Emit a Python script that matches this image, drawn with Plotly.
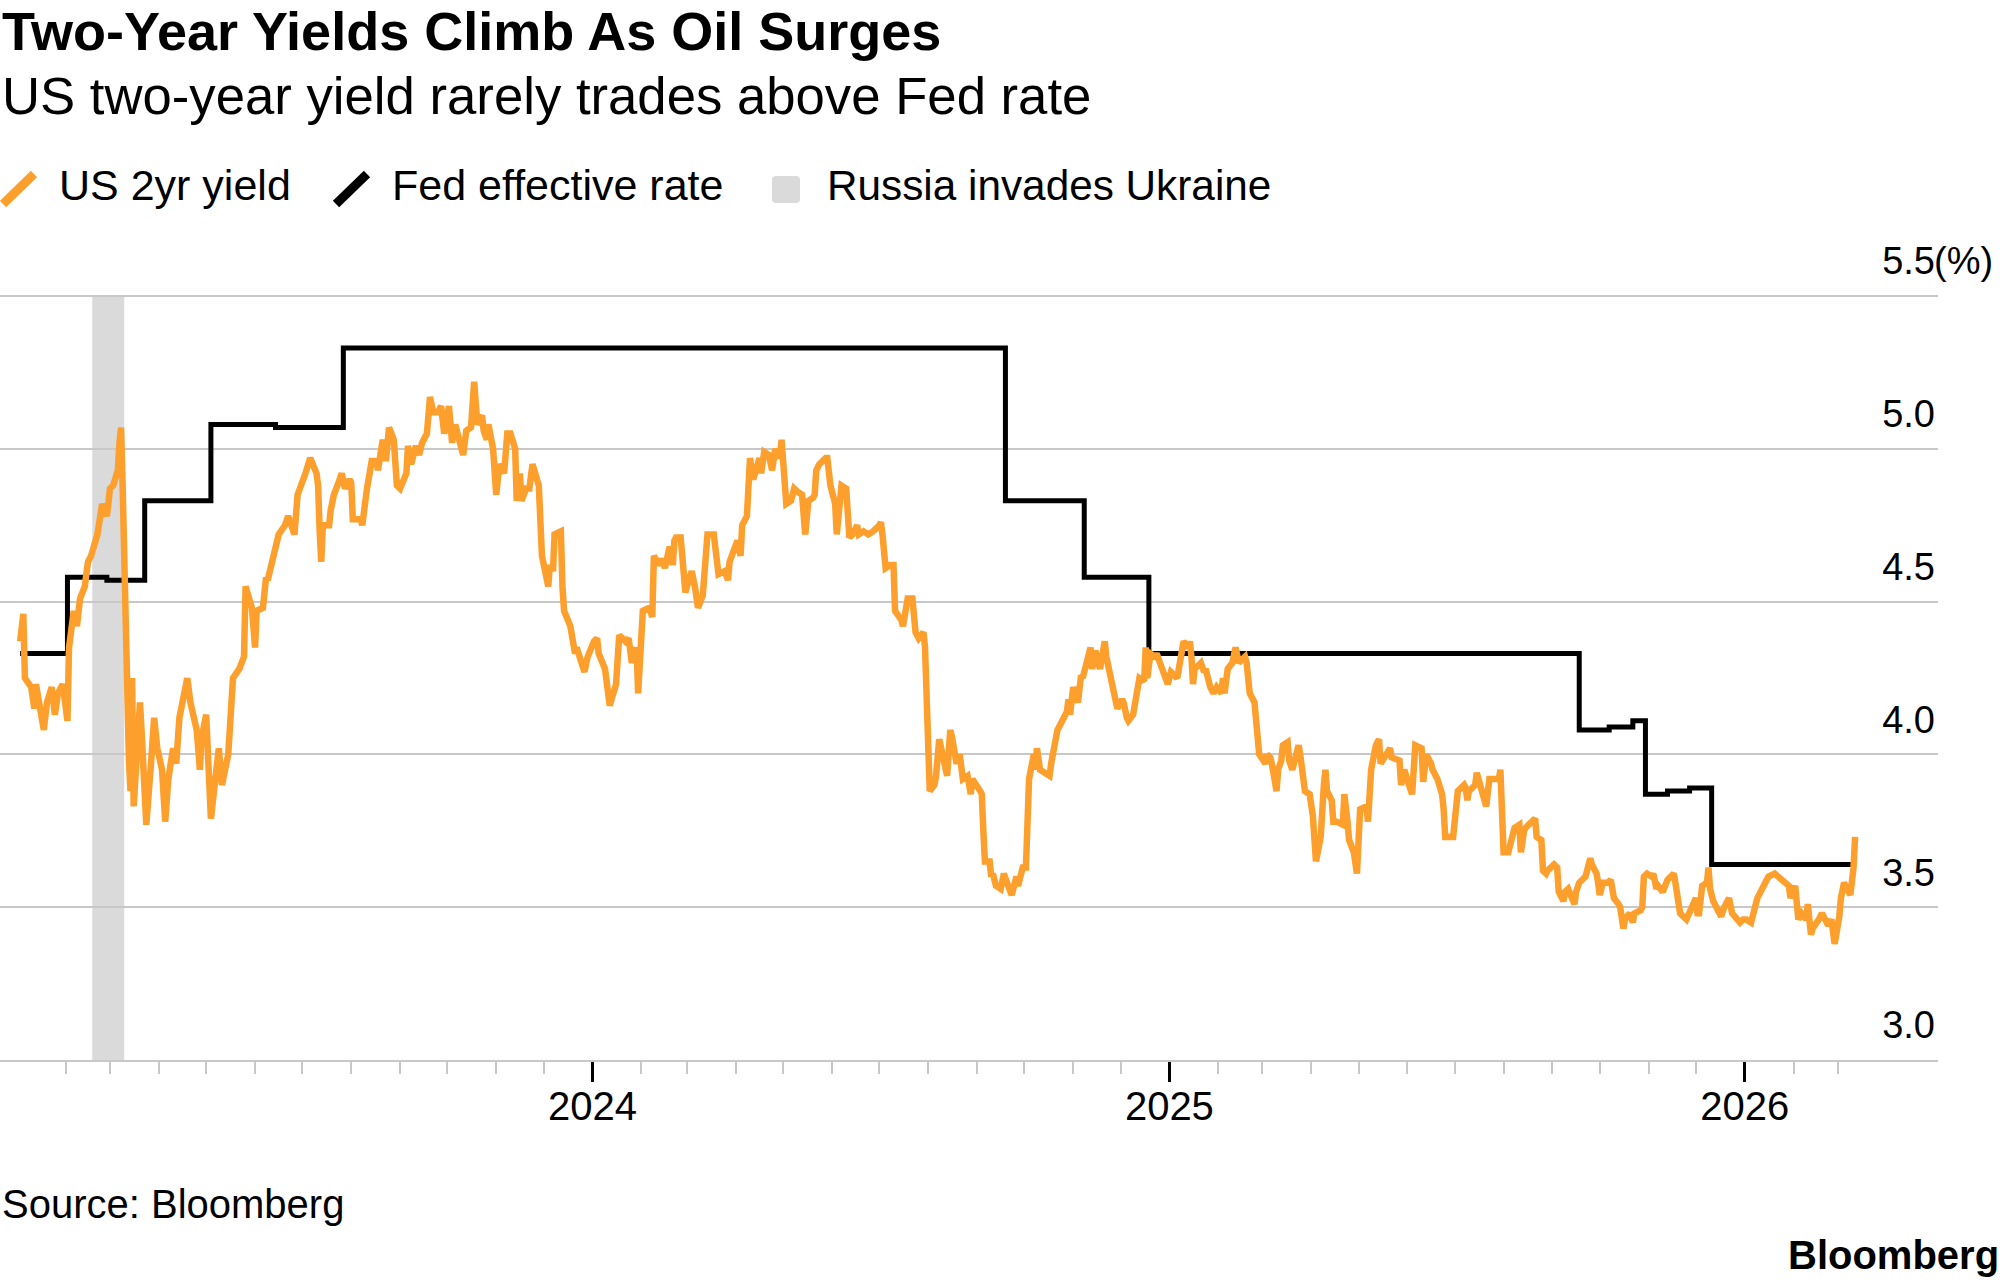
import plotly.graph_objects as go

# ---------------- data ----------------
yield_dates = [
    "2023-01-03","2023-01-05","2023-01-06","2023-01-09","2023-01-10","2023-01-12","2023-01-13","2023-01-18",
    "2023-01-20","2023-01-23","2023-01-25","2023-01-27","2023-01-30","2023-02-02","2023-02-03","2023-02-06",
    "2023-02-08","2023-02-10","2023-02-13","2023-02-15","2023-02-17","2023-02-21","2023-02-23","2023-02-24",
    "2023-02-27","2023-03-01","2023-03-03","2023-03-06","2023-03-07","2023-03-08","2023-03-09","2023-03-10",
    "2023-03-13","2023-03-14","2023-03-15","2023-03-16","2023-03-20","2023-03-21","2023-03-24","2023-03-27",
    "2023-03-29","2023-03-31","2023-04-03","2023-04-05","2023-04-07","2023-04-10","2023-04-12","2023-04-14",
    "2023-04-19","2023-04-21","2023-04-25","2023-04-27","2023-04-28","2023-05-01","2023-05-04","2023-05-09",
    "2023-05-11","2023-05-15","2023-05-18","2023-05-22","2023-05-25","2023-05-26","2023-05-30","2023-06-01",
    "2023-06-02","2023-06-06","2023-06-08","2023-06-09","2023-06-13","2023-06-16","2023-06-20","2023-06-22",
    "2023-06-26","2023-06-28","2023-07-03","2023-07-06","2023-07-10","2023-07-11","2023-07-12","2023-07-13",
    "2023-07-14","2023-07-18","2023-07-19","2023-07-21","2023-07-24","2023-07-26","2023-07-28","2023-07-31",
    "2023-08-01","2023-08-02","2023-08-07","2023-08-08","2023-08-11","2023-08-14","2023-08-17","2023-08-18",
    "2023-08-21","2023-08-23","2023-08-25","2023-08-28","2023-08-30","2023-09-01","2023-09-05","2023-09-06",
    "2023-09-08","2023-09-11","2023-09-13","2023-09-15","2023-09-18","2023-09-20","2023-09-22","2023-09-25",
    "2023-09-27","2023-09-29","2023-10-02","2023-10-04","2023-10-06","2023-10-09","2023-10-11","2023-10-13",
    "2023-10-16","2023-10-18","2023-10-20","2023-10-23","2023-10-24","2023-10-26","2023-10-27","2023-10-30",
    "2023-11-01","2023-11-03","2023-11-06","2023-11-08","2023-11-10","2023-11-13","2023-11-14","2023-11-16",
    "2023-11-17","2023-11-20","2023-11-22","2023-11-24","2023-11-28","2023-11-30","2023-12-01","2023-12-04",
    "2023-12-05","2023-12-07","2023-12-08","2023-12-12","2023-12-13","2023-12-14","2023-12-18","2023-12-19",
    "2023-12-21","2023-12-22","2023-12-26","2023-12-27","2023-12-29",
    "2024-01-02","2024-01-04","2024-01-05","2024-01-09","2024-01-12","2024-01-16","2024-01-17","2024-01-18",
    "2024-01-22","2024-01-24","2024-01-26","2024-01-29","2024-01-30","2024-02-01","2024-02-02","2024-02-06",
    "2024-02-08","2024-02-09","2024-02-12","2024-02-14","2024-02-16","2024-02-19","2024-02-20","2024-02-21",
    "2024-02-22","2024-02-23","2024-02-26","2024-02-29","2024-03-01","2024-03-04","2024-03-06","2024-03-08",
    "2024-03-11","2024-03-12","2024-03-14","2024-03-18","2024-03-20","2024-03-21","2024-03-25","2024-03-26",
    "2024-03-27","2024-03-28","2024-04-01","2024-04-02","2024-04-04","2024-04-05","2024-04-08","2024-04-10",
    "2024-04-12","2024-04-15","2024-04-16","2024-04-17","2024-04-19","2024-04-22","2024-04-24","2024-04-26",
    "2024-04-29","2024-04-30","2024-05-02","2024-05-03","2024-05-06","2024-05-08","2024-05-10","2024-05-13",
    "2024-05-15","2024-05-17","2024-05-20","2024-05-21","2024-05-22","2024-05-24","2024-05-28","2024-05-29",
    "2024-05-31","2024-06-03","2024-06-04","2024-06-07","2024-06-10","2024-06-12","2024-06-14","2024-06-17",
    "2024-06-18","2024-06-21","2024-06-24","2024-06-27","2024-07-01","2024-07-02","2024-07-03","2024-07-05",
    "2024-07-08","2024-07-10","2024-07-11","2024-07-15","2024-07-16","2024-07-19","2024-07-22","2024-07-24",
    "2024-07-26","2024-07-29","2024-07-30","2024-08-01","2024-08-02","2024-08-05","2024-08-06","2024-08-08",
    "2024-08-12","2024-08-13","2024-08-15","2024-08-16","2024-08-19","2024-08-21","2024-08-23","2024-08-26",
    "2024-08-28","2024-08-29","2024-09-03","2024-09-04","2024-09-05","2024-09-06","2024-09-09","2024-09-10",
    "2024-09-11","2024-09-13","2024-09-16","2024-09-18","2024-09-20","2024-09-23","2024-09-26","2024-09-27",
    "2024-09-30","2024-10-02","2024-10-04","2024-10-07","2024-10-08","2024-10-09","2024-10-11","2024-10-15",
    "2024-10-17","2024-10-18","2024-10-21","2024-10-22","2024-10-24","2024-10-28","2024-10-29","2024-10-30",
    "2024-11-01","2024-11-04","2024-11-06","2024-11-07","2024-11-11","2024-11-12","2024-11-13","2024-11-15",
    "2024-11-18","2024-11-21","2024-11-22","2024-11-26","2024-11-29","2024-12-02","2024-12-03","2024-12-05",
    "2024-12-06","2024-12-09","2024-12-11","2024-12-13","2024-12-16","2024-12-17","2024-12-18","2024-12-20",
    "2024-12-23","2024-12-24","2024-12-26","2024-12-30","2024-12-31",
    "2025-01-02","2025-01-06","2025-01-07","2025-01-10","2025-01-13","2025-01-14","2025-01-15","2025-01-16",
    "2025-01-17","2025-01-21","2025-01-23","2025-01-24","2025-01-27","2025-01-29","2025-01-31","2025-02-03",
    "2025-02-04","2025-02-05","2025-02-07","2025-02-10","2025-02-12","2025-02-14","2025-02-18","2025-02-19",
    "2025-02-20","2025-02-21","2025-02-24","2025-02-25","2025-02-27","2025-03-03","2025-03-04","2025-03-06",
    "2025-03-07","2025-03-10","2025-03-11","2025-03-13","2025-03-14","2025-03-17","2025-03-18","2025-03-20",
    "2025-03-24","2025-03-25","2025-03-27","2025-03-28","2025-03-31","2025-04-02","2025-04-04","2025-04-07",
    "2025-04-09","2025-04-10","2025-04-11","2025-04-14","2025-04-15","2025-04-17","2025-04-21","2025-04-22",
    "2025-04-24","2025-04-25","2025-04-28","2025-04-30","2025-05-02","2025-05-05","2025-05-06","2025-05-07",
    "2025-05-08","2025-05-09","2025-05-12","2025-05-14","2025-05-15","2025-05-19","2025-05-21","2025-05-22",
    "2025-05-27","2025-05-28","2025-05-30","2025-06-02","2025-06-04","2025-06-06","2025-06-09","2025-06-10",
    "2025-06-11","2025-06-13","2025-06-16","2025-06-17","2025-06-20","2025-06-23","2025-06-24","2025-06-25",
    "2025-06-27","2025-06-30","2025-07-03","2025-07-07","2025-07-08","2025-07-09","2025-07-10","2025-07-14",
    "2025-07-15","2025-07-17","2025-07-18","2025-07-21","2025-07-23","2025-07-25","2025-07-28","2025-07-29",
    "2025-07-30","2025-08-01","2025-08-04","2025-08-05","2025-08-07","2025-08-08","2025-08-11","2025-08-12",
    "2025-08-14","2025-08-15","2025-08-19","2025-08-21","2025-08-22","2025-08-25","2025-08-26","2025-08-28",
    "2025-08-29","2025-09-02","2025-09-04","2025-09-05","2025-09-08","2025-09-09","2025-09-11","2025-09-12",
    "2025-09-15","2025-09-16","2025-09-18","2025-09-22","2025-09-23","2025-09-25","2025-09-26","2025-09-29",
    "2025-09-30","2025-10-01","2025-10-03","2025-10-06","2025-10-08","2025-10-10","2025-10-13","2025-10-14",
    "2025-10-16","2025-10-17","2025-10-20","2025-10-22","2025-10-23","2025-10-27","2025-10-28","2025-10-29",
    "2025-10-31","2025-11-03","2025-11-04","2025-11-06","2025-11-07","2025-11-10","2025-11-13","2025-11-17",
    "2025-11-18","2025-11-20","2025-11-21","2025-11-25","2025-11-28","2025-12-01","2025-12-02","2025-12-03",
    "2025-12-05","2025-12-08","2025-12-09","2025-12-10","2025-12-12","2025-12-15","2025-12-17","2025-12-19",
    "2025-12-22","2025-12-24","2025-12-26","2025-12-29","2025-12-31",
    "2026-01-02","2026-01-05","2026-01-08","2026-01-09","2026-01-14","2026-01-16","2026-01-20","2026-01-22",
    "2026-01-26","2026-01-27","2026-01-29","2026-01-30","2026-02-02","2026-02-04","2026-02-06","2026-02-09",
    "2026-02-10","2026-02-12","2026-02-13","2026-02-17","2026-02-19","2026-02-20","2026-02-23","2026-02-25",
    "2026-02-27","2026-03-02","2026-03-03","2026-03-05","2026-03-06","2026-03-09","2026-03-11","2026-03-12",
]
yield_values = [
    4.37,4.46,4.25,4.23,4.22,4.15,4.23,4.08,
    4.17,4.22,4.13,4.20,4.23,4.11,4.35,4.47,
    4.42,4.51,4.55,4.63,4.65,4.72,4.77,4.82,
    4.78,4.87,4.88,4.93,5.02,5.07,4.88,4.60,
    3.98,3.88,4.25,3.83,4.17,4.08,3.77,3.97,
    4.12,4.02,3.95,3.78,3.92,4.02,3.97,4.12,
    4.25,4.17,4.08,3.95,4.05,4.13,3.79,4.02,
    3.90,4.00,4.25,4.28,4.32,4.55,4.48,4.35,
    4.47,4.48,4.58,4.57,4.67,4.72,4.75,4.78,
    4.72,4.85,4.92,4.97,4.92,4.88,4.73,4.63,
    4.75,4.75,4.80,4.85,4.89,4.92,4.87,4.90,
    4.89,4.77,4.77,4.75,4.87,4.96,4.96,4.93,
    5.03,4.96,5.07,5.03,4.88,4.87,4.92,5.01,
    4.95,5.01,4.98,5.02,5.05,5.17,5.12,5.12,
    5.14,5.05,5.14,5.02,5.08,5.02,4.98,5.06,
    5.07,5.22,5.08,5.11,5.06,5.03,5.08,5.00,
    4.85,4.95,4.92,5.05,5.05,5.00,4.83,4.92,
    4.83,4.87,4.87,4.95,4.88,4.65,4.62,4.55,
    4.62,4.60,4.72,4.73,4.55,4.47,4.42,4.38,
    4.33,4.35,4.27,4.27,4.32,
    4.37,4.38,4.33,4.28,4.16,4.23,4.38,4.39,
    4.37,4.38,4.30,4.35,4.20,4.35,4.47,4.48,
    4.45,4.65,4.62,4.64,4.61,4.68,4.65,4.62,
    4.70,4.71,4.71,4.53,4.55,4.60,4.55,4.48,
    4.52,4.58,4.72,4.72,4.62,4.59,4.60,4.58,
    4.57,4.63,4.69,4.70,4.65,4.75,4.78,4.97,
    4.90,4.95,4.97,4.92,4.99,4.98,4.93,5.00,
    4.97,5.03,4.82,4.82,4.83,4.87,4.86,4.85,
    4.72,4.83,4.84,4.85,4.93,4.95,4.97,4.97,
    4.88,4.82,4.72,4.88,4.87,4.71,4.72,4.75,
    4.72,4.73,4.72,4.73,4.75,4.76,4.72,4.61,
    4.62,4.62,4.47,4.44,4.42,4.51,4.51,4.40,
    4.38,4.40,4.35,4.08,3.88,3.90,3.93,4.05,
    3.95,3.93,4.08,4.06,3.97,4.00,3.92,3.93,
    3.87,3.92,3.88,3.87,3.75,3.65,3.65,3.60,
    3.61,3.57,3.56,3.61,3.58,3.54,3.60,3.57,
    3.63,3.63,3.92,4.00,3.95,4.02,3.95,3.94,
    3.93,3.97,4.05,4.08,4.10,4.14,4.18,4.13,
    4.22,4.17,4.26,4.25,4.33,4.35,4.28,4.34,
    4.28,4.37,4.32,4.23,4.15,4.18,4.17,4.12,
    4.11,4.13,4.18,4.25,4.24,4.35,4.25,4.33,
    4.32,4.33,4.30,4.25,4.23,
    4.27,4.25,4.28,4.37,4.35,4.37,4.32,4.23,
    4.28,4.30,4.27,4.28,4.22,4.20,4.22,4.20,
    4.25,4.20,4.28,4.30,4.35,4.30,4.32,4.30,
    4.25,4.20,4.17,4.10,4.00,3.97,4.00,3.99,
    3.97,3.88,3.95,3.98,4.03,4.04,3.98,3.95,
    4.03,4.00,3.91,3.88,3.87,3.80,3.65,3.73,
    3.90,3.95,3.88,3.85,3.78,3.78,3.77,3.87,
    3.78,3.72,3.68,3.61,3.82,3.83,3.83,3.78,
    3.88,3.95,4.03,4.05,3.97,4.00,4.02,3.99,
    3.98,3.90,3.95,3.90,3.87,4.03,4.02,4.02,
    3.91,4.00,3.97,3.95,3.92,3.87,3.82,3.73,
    3.73,3.73,3.88,3.90,3.89,3.85,3.88,3.90,
    3.94,3.90,3.88,3.83,3.92,3.92,3.92,3.92,
    3.95,3.68,3.68,3.70,3.75,3.76,3.77,3.68,
    3.75,3.76,3.78,3.79,3.73,3.72,3.62,3.61,
    3.62,3.64,3.63,3.55,3.52,3.55,3.56,3.55,
    3.51,3.55,3.58,3.60,3.63,3.66,3.64,3.61,
    3.58,3.54,3.58,3.58,3.59,3.53,3.51,3.50,
    3.43,3.46,3.48,3.45,3.48,3.49,3.50,3.60,
    3.61,3.60,3.61,3.56,3.57,3.55,3.59,3.61,
    3.58,3.53,3.48,3.46,3.49,3.53,3.48,3.48,
    3.57,3.58,3.63,3.56,3.52,3.49,3.47,3.50,
    3.53,3.48,3.47,3.45,3.46,
    3.46,3.45,3.53,3.53,3.58,3.60,3.61,3.60,
    3.58,3.58,3.57,3.53,3.57,3.46,3.48,3.46,
    3.51,3.41,3.43,3.46,3.48,3.47,3.44,3.46,
    3.38,3.47,3.53,3.58,3.57,3.54,3.63,3.73,
]

fed_dates = [
    "2023-01-03","2023-02-02","2023-02-27","2023-03-23","2023-05-04","2023-06-14","2023-07-27",
    "2024-09-19","2024-11-08","2024-12-19","2025-09-18","2025-10-07","2025-10-22","2025-10-30",
    "2025-11-13","2025-11-27","2025-12-11","2026-03-11",
]
fed_values = [
    4.33,4.58,4.57,4.83,5.08,5.07,5.33,
    4.83,4.58,4.33,4.08,4.09,4.11,3.87,
    3.88,3.89,3.64,3.64,
]

event_start = "2023-02-17 18:00"
event_end = "2023-03-10"

year_tick_vals = ["2024-01-01", "2025-01-01", "2026-01-01"]
year_tick_text = ["2024", "2025", "2026"]
month_tick_vals = [f"{y}-{m:02d}-01" for y in (2023, 2024, 2025, 2026) for m in range(2, 13)
                   if "2023-02-01" <= f"{y}-{m:02d}-01" <= "2026-03-01"]
y_tick_vals = [3.0, 3.5, 4.0, 4.5, 5.0, 5.5]
y_tick_text = ["3.0", "3.5", "4.0", "4.5", "5.0", "5.5"]
y_min, y_max = 3.0, 5.5

title_text = "Two-Year Yields Climb As Oil Surges"
subtitle_text = "US two-year yield rarely trades above Fed rate"
legend_labels = ["US 2yr yield", "Fed effective rate", "Russia invades Ukraine"]
source_text = "Source: Bloomberg"

# ---------------- style / geometry ----------------
W, H = 2005, 1287
ML, MR, MT, MB = 0, 67, 235, 227
PW, PH = W - ML - MR, H - MT - MB
Y_TOP = 5.70          # headroom so the top tick label stays inside the plotting area
ORANGE = "#fc9f2c"
BLACK = "#000000"
GRID = "#c8c8c8"
BAND = "#dadada"
FONT = "Liberation Sans, Arial, Helvetica, sans-serif"

def px(x):
    return (x - ML) / PW

def py(y):
    return (H - MB - y) / PH

fig = go.Figure()
fig.add_trace(go.Scatter(x=fed_dates, y=fed_values, mode="lines",
                         line=dict(color=BLACK, width=5, shape="hv"), hoverinfo="skip"))
fig.add_trace(go.Scatter(x=yield_dates, y=yield_values, mode="lines",
                         line=dict(color=ORANGE, width=6.5), hoverinfo="skip"))

shapes = [
    dict(type="rect", xref="x", yref="y", x0=event_start, x1=event_end, y0=y_min, y1=y_max,
         fillcolor=BAND, line=dict(width=0), layer="below"),
    dict(type="line", xref="paper", yref="paper", x0=px(3), y0=py(204), x1=px(34), y1=py(174),
         line=dict(color=ORANGE, width=9)),
    dict(type="line", xref="paper", yref="paper", x0=px(336), y0=py(204), x1=px(367), y1=py(174),
         line=dict(color=BLACK, width=9)),
]
sx0, sx1, sy0, sy1, r = 772, 800, 176, 203, 4
path = (f"M {px(sx0+r)},{py(sy0)} L {px(sx1-r)},{py(sy0)} Q {px(sx1)},{py(sy0)} {px(sx1)},{py(sy0+r)} "
        f"L {px(sx1)},{py(sy1-r)} Q {px(sx1)},{py(sy1)} {px(sx1-r)},{py(sy1)} "
        f"L {px(sx0+r)},{py(sy1)} Q {px(sx0)},{py(sy1)} {px(sx0)},{py(sy1-r)} "
        f"L {px(sx0)},{py(sy0+r)} Q {px(sx0)},{py(sy0)} {px(sx0+r)},{py(sy0)} Z")
shapes.append(dict(type="path", xref="paper", yref="paper", path=path,
                   fillcolor=BAND, line=dict(width=0)))

annotations = [
    dict(text=f"<b>{title_text}</b>", x=px(0), y=py(31), font=dict(size=54, color="#000", family=FONT)),
    dict(text=subtitle_text, x=px(0), y=py(95), font=dict(size=52.7, color="#000", family=FONT)),
    dict(text=legend_labels[0], x=px(57), y=py(185), font=dict(size=43, color="#000", family=FONT)),
    dict(text=legend_labels[1], x=px(390), y=py(185), font=dict(size=43, color="#000", family=FONT)),
    dict(text=legend_labels[2], x=px(825), y=py(185), font=dict(size=42.3, color="#000", family=FONT)),
    dict(text=source_text, x=px(0), y=py(1204), font=dict(size=40, color="#000", family=FONT)),
    dict(text="<b>Bloomberg</b>", x=px(2001), y=py(1255), xanchor="right",
         font=dict(size=40, color="#000", family=FONT)),
]
for a in annotations:
    a.setdefault("xanchor", "left")
    a.update(xref="paper", yref="paper", yanchor="middle", showarrow=False)
annotations.append(dict(text="(%)", xref="paper", yref="y", x=px(1932), y=y_max, yshift=35,
                        xanchor="left", yanchor="middle", showarrow=False,
                        font=dict(size=38, color="#000", family=FONT)))

fig.update_layout(
    width=W, height=H,
    margin=dict(l=ML, r=MR, t=MT, b=MB, pad=0, autoexpand=False),
    paper_bgcolor="white", plot_bgcolor="white",
    showlegend=False,
    font=dict(family=FONT, color="#000"),
    shapes=shapes,
    annotations=annotations,
    xaxis=dict(
        type="date", range=["2022-12-21 05:00", "2026-05-03 14:00"],
        tickmode="array", tickvals=year_tick_vals, ticktext=year_tick_text,
        ticks="outside", ticklen=20, tickwidth=3, tickcolor="#000",
        ticklabelstandoff=-10,
        tickfont=dict(size=40, color="#000", family=FONT),
        showgrid=False, zeroline=False,
        showline=True, linecolor=GRID, linewidth=2,
        minor=dict(tickmode="array", tickvals=month_tick_vals, ticks="outside",
                   ticklen=12, tickwidth=2, tickcolor=GRID, showgrid=False),
        fixedrange=True,
    ),
    yaxis=dict(
        range=[y_min, Y_TOP], side="right",
        tickmode="array", tickvals=y_tick_vals, ticktext=y_tick_text,
        ticks="", showgrid=True, gridcolor=GRID, gridwidth=2,
        zeroline=False, showline=False,
        ticklabelposition="inside", ticklabelshift=-35,
        tickfont=dict(size=38, color="#000", family=FONT),
        fixedrange=True,
    ),
)

fig.write_html("out.html", config={"displayModeBar": False},
               post_script="document.body.style.margin='0';document.body.style.padding='0';")
